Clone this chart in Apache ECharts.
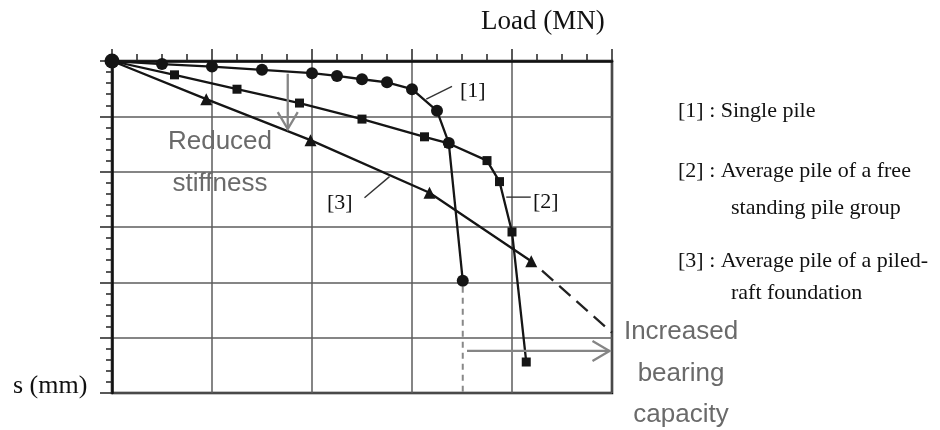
<!DOCTYPE html>
<html>
<head>
<meta charset="utf-8">
<script src="https://cdn.jsdelivr.net/npm/echarts@6/dist/echarts.min.js"></script>
<style>html,body{margin:0;padding:0;background:#fff}#c{width:940px;height:430px}</style>
</head>
<body>
<div id="c"></div>
<script>
// Load in arbitrary units (no numeric tick labels in the reference), settlement in mm-like units
const xRange = [0, 20];
const yRange = [0, 60];
// [1] Single pile (load, settlement)
const singlePile = [[0,0],[2,0.55],[4,1.0],[6,1.6],[8,2.2],[9,2.7],[10,3.3],[11,3.85],[12,5.1],[13,9.0],[13.47,14.8],[14.03,39.7]];
// [2] Average pile of a free standing pile group
const freeGroup = [[0,0],[2.5,2.5],[5,5.1],[7.5,7.6],[10,10.5],[12.5,13.7],[13.47,14.9],[15,18.0],[15.5,21.8],[16,30.9],[16.57,54.4]];
// [3] Average pile of a piled-raft foundation
const piledRaft = [[0,0],[3.77,6.9],[7.94,14.3],[12.7,23.8],[16.77,36.2]];
const piledRaftExtrap = [[17.2,37.9],[20,49.1]];
// annotation geometry in data units
const dropLine = [[14.03,40.8],[14.03,60]];
const arrows = [[7.03,2.3,7.03,12.3],[14.2,52.4,19.9,52.4]];
const leaders = [[12.57,6.9,13.6,4.6],[15.77,24.6,16.75,24.6],[10.1,24.7,11.1,20.9]];

const chart = echarts.init(document.getElementById('c'), null, {renderer:'canvas'});
const serif = '"Liberation Serif","Times New Roman",serif';
const sans = '"Liberation Sans",Arial,sans-serif';
const gray = '#6a6a6a';

function txt(text, x, y, size, font, color, align){
  return {type:'text', x:x, y:y, style:{text:text, x:0, y:0, font: size+'px '+font, fill:color, textAlign:align||'left', textVerticalAlign:'middle'}, z:100};
}

const lineColor = '#151515';
chart.setOption({
  animation:false,
  grid:{left:112, top:61, width:500, height:332, show:true, borderColor:'#111', borderWidth:2.5, backgroundColor:'transparent'},
  xAxis:{type:'value', position:'top', min:xRange[0], max:xRange[1], interval:4,
    axisLine:{show:true, onZero:false, lineStyle:{color:'#111', width:2.5}},
    axisTick:{show:true, inside:false, length:12, lineStyle:{color:'#222', width:1.5}},
    minorTick:{show:true, splitNumber:4, length:7, lineStyle:{color:'#222', width:1.5}},
    splitLine:{show:true, lineStyle:{color:'#5c5c5c', width:1.5}},
    axisLabel:{show:false}},
  yAxis:{type:'value', inverse:true, min:yRange[0], max:yRange[1], interval:10,
    axisLine:{show:true, onZero:false, lineStyle:{color:'#111', width:2.5}},
    axisTick:{show:true, inside:false, length:12, lineStyle:{color:'#222', width:1.5}},
    minorTick:{show:true, splitNumber:5, length:6, lineStyle:{color:'#222', width:1.5}},
    splitLine:{show:true, lineStyle:{color:'#5c5c5c', width:1.5}},
    axisLabel:{show:false}},
  series:[
    {type:'line', data:piledRaftExtrap, symbol:'none', lineStyle:{color:'#222', width:2.3, type:[15,8]}, z:3},
    {type:'line', data:dropLine, symbol:'none', lineStyle:{color:'#888', width:2, type:[6,5]}, z:3},
    {type:'line', data:piledRaft, symbol:'triangle', symbolSize:(v,p)=>p.dataIndex===0?0:12,
      itemStyle:{color:lineColor}, lineStyle:{color:lineColor, width:2.3}, z:4},
    {type:'line', data:freeGroup, symbol:'rect', symbolSize:(v,p)=>p.dataIndex===0?0:9,
      itemStyle:{color:lineColor}, lineStyle:{color:lineColor, width:2.3}, z:5},
    {type:'line', data:singlePile, symbol:'circle', symbolSize:(v,p)=>p.dataIndex===0?15:12,
      itemStyle:{color:lineColor}, lineStyle:{color:lineColor, width:2.3}, z:6},
    {type:'custom', data:leaders, encode:{x:[0,2], y:[1,3]}, z:7,
      renderItem:(params, api)=>{
        const a = api.coord([api.value(0), api.value(1)]);
        const b = api.coord([api.value(2), api.value(3)]);
        return {type:'line', shape:{x1:a[0],y1:a[1],x2:b[0],y2:b[1]}, style:{stroke:'#333', lineWidth:1.4}};
      }},
    {type:'custom', data:arrows, encode:{x:[0,2], y:[1,3]}, z:8,
      renderItem:(params, api)=>{
        const a = api.coord([api.value(0), api.value(1)]);
        const b = api.coord([api.value(2), api.value(3)]);
        const ang = Math.atan2(b[1]-a[1], b[0]-a[0]);
        const L = 17, W = 10;
        const bx = b[0]-L*Math.cos(ang), by = b[1]-L*Math.sin(ang);
        const nx = -Math.sin(ang), ny = Math.cos(ang);
        return {type:'group', children:[
          {type:'line', shape:{x1:a[0],y1:a[1],x2:b[0],y2:b[1]}, style:{stroke:'#858585', lineWidth:2.3}},
          {type:'polyline', shape:{points:[[bx+W*nx,by+W*ny],[b[0],b[1]],[bx-W*nx,by-W*ny]]}, style:{stroke:'#858585', lineWidth:2.3, fill:null}}
        ]};
      }}
  ],
  graphic:[
    txt('Load (MN)', 481, 22, 27, serif, '#111'),
    txt('s (mm)', 13, 386, 26, serif, '#111'),
    txt('[1]', 460, 91, 22, serif, '#111'),
    txt('[2]', 533, 202, 22, serif, '#111'),
    txt('[3]', 327, 203, 22, serif, '#111'),
    txt('[1] : Single pile', 678, 111, 22, serif, '#111'),
    txt('[2] : Average pile of a free', 678, 171, 22, serif, '#111'),
    txt('standing pile group', 731, 208, 22, serif, '#111'),
    txt('[3] : Average pile of a piled-', 678, 261, 22, serif, '#111'),
    txt('raft foundation', 731, 293, 22, serif, '#111'),
    txt('Reduced', 220, 142, 26, sans, gray, 'center'),
    txt('stiffness', 220, 184, 26, sans, gray, 'center'),
    txt('Increased', 681, 332, 26, sans, gray, 'center'),
    txt('bearing', 681, 374, 26, sans, gray, 'center'),
    txt('capacity', 681, 415, 26, sans, gray, 'center')
  ]
});
</script>
</body>
</html>
